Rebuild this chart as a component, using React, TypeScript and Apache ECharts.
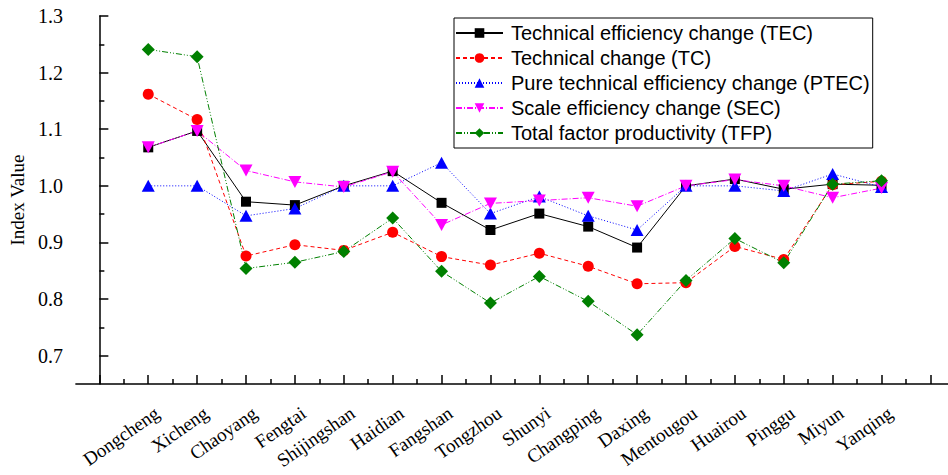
import React, { useEffect, useRef } from "react";
import * as echarts from "echarts";

const districts = [
  "Dongcheng", "Xicheng", "Chaoyang", "Fengtai", "Shijingshan", "Haidian", "Fangshan", "Tongzhou",
  "Shunyi", "Changping", "Daxing", "Mentougou", "Huairou", "Pinggu", "Miyun", "Yanqing",
];
const tec = [1.068, 1.097, 0.972, 0.966, 1.0, 1.026, 0.97, 0.922, 0.951, 0.928, 0.891, 1.0, 1.012, 0.994, 1.003, 1.001];
const tc = [1.162, 1.117, 0.876, 0.896, 0.886, 0.918, 0.875, 0.86, 0.881, 0.858, 0.827, 0.829, 0.893, 0.87, 1.002, 1.008];
const ptec = [1.0, 1.0, 0.947, 0.96, 1.0, 1.0, 1.041, 0.951, 0.981, 0.947, 0.922, 1.0, 1.0, 0.991, 1.021, 0.998];
const sec = [1.068, 1.097, 1.027, 1.007, 0.998, 1.025, 0.931, 0.969, 0.974, 0.979, 0.964, 1.0, 1.011, 1.0, 0.979, 0.996];
const tfp = [1.241, 1.228, 0.854, 0.865, 0.884, 0.943, 0.849, 0.793, 0.84, 0.796, 0.737, 0.833, 0.907, 0.864, 1.003, 1.009];

const seriesNames = [
  "Technical efficiency change (TEC)",
  "Technical change (TC)",
  "Pure technical efficiency change (PTEC)",
  "Scale efficiency change (SEC)",
  "Total factor productivity (TFP)",
];

const yMajorTicks = [0.7, 0.8, 0.9, 1.0, 1.1, 1.2, 1.3];
const yMinorTicks = [0.75, 0.85, 0.95, 1.05, 1.15, 1.25];
const xMajorTicks = [0, 1, 2, 3, 4, 5, 6, 7, 8, 9, 10, 11, 12, 13, 14, 15, 16, 17];
const xMinorTicks = [0.5, 1.5, 2.5, 3.5, 4.5, 5.5, 6.5, 7.5, 8.5, 9.5, 10.5, 11.5, 12.5, 13.5, 14.5, 15.5, 16.5];

const Y_MIN = 0.65;
const Y_MAX = 1.3;
const X_MIN = -0.48;
const X_MAX = 17.36;
const LABEL_SHIFT = 0.18;

const SERIF = "'Liberation Serif', 'Times New Roman', serif";
const SANS = "'Liberation Sans', Arial, sans-serif";

const styles = [
  { color: "#000000", symbol: "rect", size: [10, 10], rotate: 0, dash: "solid" as any },
  { color: "#ff0000", symbol: "circle", size: [11, 11], rotate: 0, dash: [4, 3] },
  { color: "#0000ff", symbol: "triangle", size: [13, 12], rotate: 0, dash: [1, 2] },
  { color: "#ff00ff", symbol: "triangle", size: [13, 12], rotate: 180, dash: [6, 2, 1, 2] },
  { color: "#008000", symbol: "diamond", size: [13, 13], rotate: 0, dash: [6, 2, 1, 2, 1, 2] },
];

export default function App() {
  const ref = useRef<HTMLDivElement>(null);
  useEffect(() => {
    document.body.style.margin = "0";
    const chart = echarts.init(ref.current!, null, { renderer: "svg" });
    const datasets = [tec, tc, ptec, sec, tfp];
    const labelPositions = districts.map((_, i) => i + 1 + LABEL_SHIFT);
    const common = { min: X_MIN, max: X_MAX, type: "value" as const, position: "bottom" as const };
    chart.setOption({
      animation: false,
      backgroundColor: "#ffffff",
      grid: { left: 71, right: 0, top: 16, bottom: 91, containLabel: false },
      legend: {
        orient: "vertical",
        left: 454,
        top: 18,
        padding: [5, 3, 5, 1],
        itemWidth: 47,
        itemHeight: 12,
        itemGap: 5,
        borderColor: "#000",
        borderWidth: 1,
        backgroundColor: "#fff",
        data: seriesNames,
        textStyle: { fontFamily: SANS, fontSize: 20, color: "#000", lineHeight: 20, padding: [0, 0, 0, 3] },
      },
      xAxis: [
        {
          ...common,
          axisLine: { show: true, lineStyle: { color: "#000", width: 1.5 } },
          axisTick: { show: true, inside: true, length: 9, customValues: xMajorTicks, lineStyle: { color: "#000", width: 1.5 } },
          axisLabel: { show: false },
          splitLine: { show: false },
        },
        {
          ...common,
          axisLine: { show: false },
          axisTick: { show: true, inside: true, length: 5, customValues: xMinorTicks, lineStyle: { color: "#000", width: 1.5 } },
          axisLabel: { show: false },
          splitLine: { show: false },
        },
        {
          ...common,
          axisLine: { show: false },
          axisTick: { show: false },
          axisLabel: {
            show: true,
            customValues: labelPositions,
            rotate: 35,
            margin: 27,
            fontFamily: SERIF,
            fontSize: 19,
            color: "#000",
            formatter: (v: number) => districts[Math.round(v - LABEL_SHIFT) - 1] ?? "",
          },
          splitLine: { show: false },
        },
      ],
      yAxis: [
        {
          type: "value",
          min: Y_MIN,
          max: Y_MAX,
          position: "left",
          name: "Index Value",
          nameLocation: "middle",
          nameGap: 46,
          nameTextStyle: { fontFamily: SERIF, fontSize: 19, color: "#000" },
          axisLine: { show: true, lineStyle: { color: "#000", width: 1.5 } },
          axisTick: { show: true, inside: true, length: 9, customValues: yMajorTicks, lineStyle: { color: "#000", width: 1.5 } },
          axisLabel: {
            show: true,
            customValues: yMajorTicks,
            margin: 13,
            fontFamily: SERIF,
            fontSize: 20,
            color: "#000",
            formatter: (v: number) => v.toFixed(1),
          },
          splitLine: { show: false },
        },
        {
          type: "value",
          min: Y_MIN,
          max: Y_MAX,
          position: "left",
          offset: 0,
          axisLine: { show: false },
          axisTick: { show: true, inside: true, length: 5, customValues: yMinorTicks, lineStyle: { color: "#000", width: 1.5 } },
          axisLabel: { show: false },
          splitLine: { show: false },
        },
      ],
      series: seriesNames.map((name, k) => ({
        name,
        type: "line",
        xAxisIndex: 0,
        yAxisIndex: 0,
        data: datasets[k].map((v, i) => [i + 1, v]),
        symbol: styles[k].symbol,
        symbolSize: styles[k].size,
        symbolRotate: styles[k].rotate,
        showAllSymbol: true,
        lineStyle: { color: styles[k].color, width: 1, type: styles[k].dash },
        itemStyle: { color: styles[k].color, borderWidth: 0 },
        emphasis: { disabled: true },
      })),
    });
    return () => chart.dispose();
  }, []);
  return <div ref={ref} style={{ width: 948, height: 475 }} />;
}
